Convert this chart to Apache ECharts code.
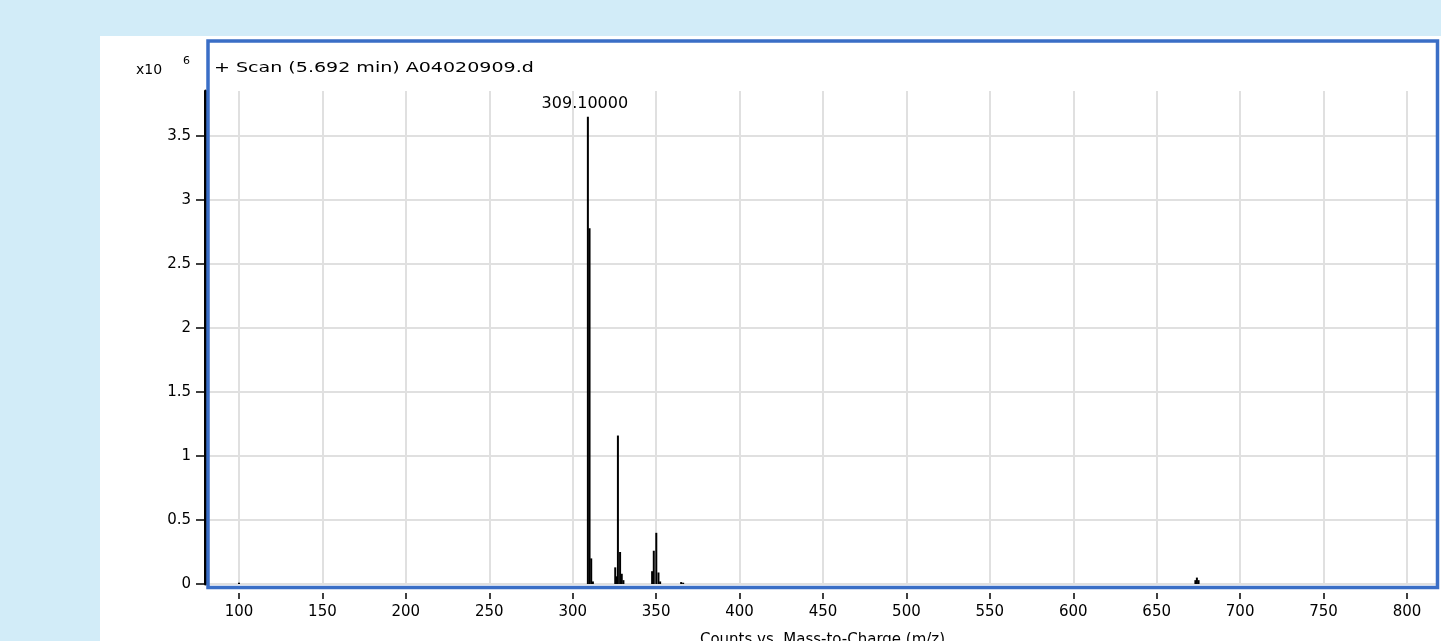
<!DOCTYPE html>
<html><head><meta charset="utf-8">
<script src="https://cdn.jsdelivr.net/npm/echarts@6/dist/echarts.min.js"></script>
<style>html,body{margin:0;padding:0;background:#d2ecf8;overflow:hidden}#c{width:1441px;height:641px}</style>
</head><body><div id="c"></div>
<script>
// m/z of peaks
const mzValues = [100.0, 309.1, 310.1, 311.1, 312.1, 325.5, 326.4, 327.1, 328.4, 329.4, 330.4,
                  347.6, 348.6, 350.1, 351.4, 352.4, 365.0, 366.2, 673.2, 674.1, 675.1];
// intensities, counts x10^6
const intensities = [0.01, 3.65, 2.78, 0.20, 0.02, 0.13, 0.06, 1.16, 0.25, 0.08, 0.03,
                     0.10, 0.26, 0.40, 0.09, 0.02, 0.015, 0.01, 0.03, 0.05, 0.03];
const xTicks = [100, 150, 200, 250, 300, 350, 400, 450, 500, 550, 600, 650, 700, 750, 800];
const yTicks = [0, 0.5, 1, 1.5, 2, 2.5, 3, 3.5];
const peakLabelMz = 309.1;
const peakLabelText = '309.10000';
const titleText = '+ Scan (5.692 min) A04020909.d';
const xAxisName = 'Counts vs. Mass-to-Charge (m/z)';
const yExpBase = 'x10';
const yExp = '6';

const FONT = 'DejaVu Sans';
const chart = echarts.init(document.getElementById('c'), null, {renderer: 'canvas'});

const seriesData = mzValues.map((m, i) => {
  const d = {value: [m, intensities[i]]};
  if (m === peakLabelMz) {
    d.label = {show: true, position: 'top', distance: 5, offset: [-3, 0],
      formatter: peakLabelText, color: '#000', fontFamily: FONT, fontSize: 16};
  }
  return d;
});

chart.setOption({
  backgroundColor: '#d2ecf8',
  animation: false,
  grid: {left: 208, right: 4, top: 91, bottom: 57, containLabel: false, outerBoundsMode: 'none'},
  xAxis: {
    type: 'value', min: 81.43, max: 818, offset: 9,
    axisLine: {show: false, onZero: false},
    axisTick: {show: true, customValues: xTicks, length: 6, lineStyle: {color: '#000', width: 1.5}},
    axisLabel: {customValues: xTicks, margin: 12, color: '#000', fontFamily: FONT, fontSize: 15},
    splitLine: {show: true, lineStyle: {color: '#e0e0e0', width: 2}},
    name: xAxisName, nameLocation: 'middle', nameGap: 40,
    nameTextStyle: {color: '#000', fontFamily: FONT, fontSize: 15}
  },
  yAxis: {
    type: 'value', min: 0, max: 3.852, offset: 3,
    axisLine: {show: true, lineStyle: {color: '#000', width: 3}},
    axisTick: {show: true, customValues: yTicks, length: 9, lineStyle: {color: '#000', width: 1.5}},
    axisLabel: {customValues: yTicks, margin: 14, color: '#000', fontFamily: FONT, fontSize: 15},
    splitLine: {show: true, lineStyle: {color: '#e0e0e0', width: 2}}
  },
  series: [{
    type: 'bar', barWidth: 2, data: seriesData, large: false,
    itemStyle: {color: '#000'}, z: 5
  }],
  graphic: [
    {type: 'rect', z: -10, silent: true, shape: {x: 100, y: 36, width: 1341, height: 605}, style: {fill: '#ffffff'}},
    {type: 'rect', z: 100, silent: true, shape: {x: 208, y: 41, width: 1229.5, height: 546.5},
      style: {fill: null, stroke: '#3a6ec6', lineWidth: 3.5}},
    {type: 'text', z: 100, x: 214, y: 68, scaleX: 1.36,
      style: {text: titleText, fill: '#000', font: '14px "DejaVu Sans"', verticalAlign: 'middle'}},
    {type: 'text', z: 100, x: 136, y: 70,
      style: {text: yExpBase, fill: '#000', font: '14px "DejaVu Sans"', verticalAlign: 'middle'}},
    {type: 'text', z: 100, x: 183, y: 61,
      style: {text: yExp, fill: '#000', font: '11px "DejaVu Sans"', verticalAlign: 'middle'}}
  ]
});
</script></body></html>
